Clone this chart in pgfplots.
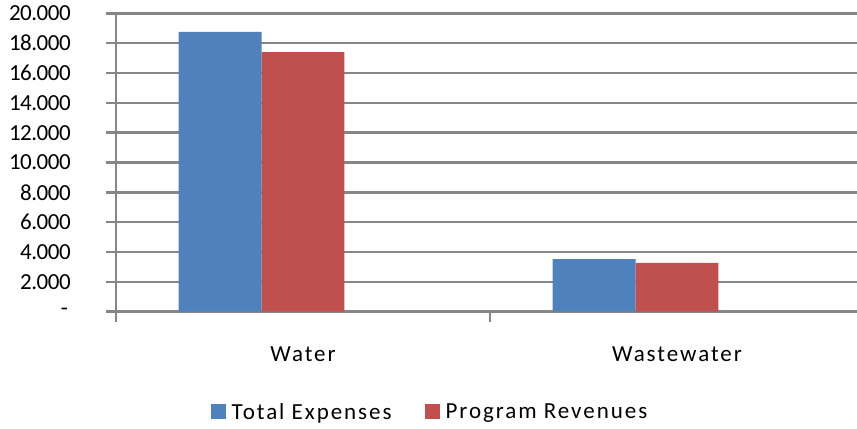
\documentclass[border=0pt]{standalone}
\usepackage{fontspec}
\setmainfont{Carlito}[LetterSpace=8.5]
\newfontfamily\numfont{Carlito}[LetterSpace=-2]
\usepackage{pgfplots}
\pgfplotsset{compat=1.18}
\definecolor{cblue}{HTML}{4F81BD}
\definecolor{cred}{HTML}{C0504D}
\definecolor{cgrid}{HTML}{868686}
\begin{document}
\begin{tikzpicture}[font=\fontsize{23bp}{27bp}\selectfont]
\begin{axis}[
  at={(0,0)}, anchor=south west,
  scale only axis, width=741bp, height=298.4bp,
  xmin=-0.5, xmax=1.4813, ymin=0, ymax=20000,
  scaled y ticks=false,
  axis x line*=bottom, axis y line*=left,
  axis line style={cgrid, line width=2.5bp, -},
  tick style={cgrid, line width=2.5bp},
  tick align=outside, major tick length=10bp,
  xtick={-0.5,0.5}, xticklabels={},
  extra x ticks={0,1}, extra x tick labels={Water,Wastewater},
  extra x tick style={major tick length=0pt, grid=none,
    xticklabel style={anchor=north, inner sep=0pt, yshift=-35bp}},
  ytick={0,2000,...,20000},
  yticklabels={\mbox{-\hspace{3bp}},\mbox{2.000},\mbox{4.000},\mbox{6.000},\mbox{8.000},\mbox{10.000},\mbox{12.000},\mbox{14.000},\mbox{16.000},\mbox{18.000},\mbox{20.000}},
  yticklabel style={anchor=east, inner sep=0pt, xshift=-35bp, font=\numfont\fontsize{23bp}{27bp}\selectfont},
  ymajorgrids, grid style={cgrid, line width=2.5bp},
  legend style={at={(0.4237,-0.336)}, anchor=center, draw=none, fill=none,
    legend columns=2, font=\fontsize{23bp}{27bp}\selectfont,
    /tikz/every odd column/.append style={column sep=4bp},
    /tikz/every even column/.append style={column sep=31bp}},
]
\addplot[ybar, bar width=0.2219, bar shift=0pt, fill=cblue, draw=none,
  legend image code/.code={\fill[cblue] (0bp,-7.5bp) rectangle (15bp,7.5bp);}]
  coordinates {(-0.2219,18750) (0.7781,3530)};
\addlegendentry{Total Expenses}
\addplot[ybar, bar width=0.2219, bar shift=0pt, fill=cred, draw=none,
  legend image code/.code={\fill[cred] (0bp,-7.5bp) rectangle (15bp,7.5bp);}]
  coordinates {(0,17400) (1,3270)};
\addlegendentry{Program Revenues}
\end{axis}
\pgfresetboundingbox
\path[use as bounding box] (-116bp,-117.3bp) rectangle (741bp,311.7bp);
\end{tikzpicture}
\end{document}
